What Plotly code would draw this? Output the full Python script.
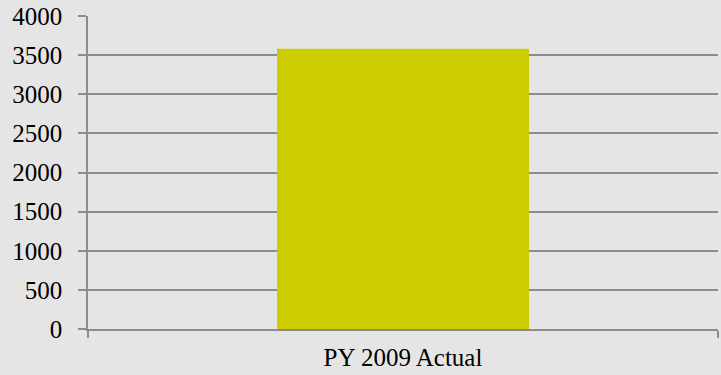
import plotly.graph_objects as go

categories = ["PY 2009 Actual"]
values = [3580]
y_ticks = [0, 500, 1000, 1500, 2000, 2500, 3000, 3500, 4000]

BG = "#e5e5e5"
AXIS = "#8c8c8c"

fig = go.Figure(
    go.Bar(
        x=categories,
        y=values,
        marker=dict(color="#cccc00", line=dict(width=0)),
        width=0.4,
    )
)

fig.update_layout(
    width=721,
    height=375,
    paper_bgcolor=BG,
    plot_bgcolor=BG,
    margin=dict(l=88, r=3, t=16, b=46),
    font=dict(family="Liberation Serif, Times New Roman, serif", size=25, color="#000000"),
    showlegend=False,
    bargap=0.6,
)

fig.update_xaxes(
    type="category",
    showline=True,
    linecolor=AXIS,
    linewidth=1.5,
    ticks="outside",
    tickson="boundaries",
    ticklen=7,
    tickcolor=AXIS,
    tickwidth=1.5,
    showgrid=False,
    ticklabelstandoff=5,
)

fig.update_yaxes(
    range=[0, 4000],
    tickvals=y_ticks,
    ticktext=[str(v) for v in y_ticks],
    showline=True,
    linecolor=AXIS,
    linewidth=1.5,
    ticks="outside",
    ticklen=8,
    tickcolor=AXIS,
    tickwidth=1.5,
    showgrid=True,
    gridcolor=AXIS,
    gridwidth=1.6,
    zeroline=False,
    ticklabelstandoff=11,
)

fig.write_html("out.html")
